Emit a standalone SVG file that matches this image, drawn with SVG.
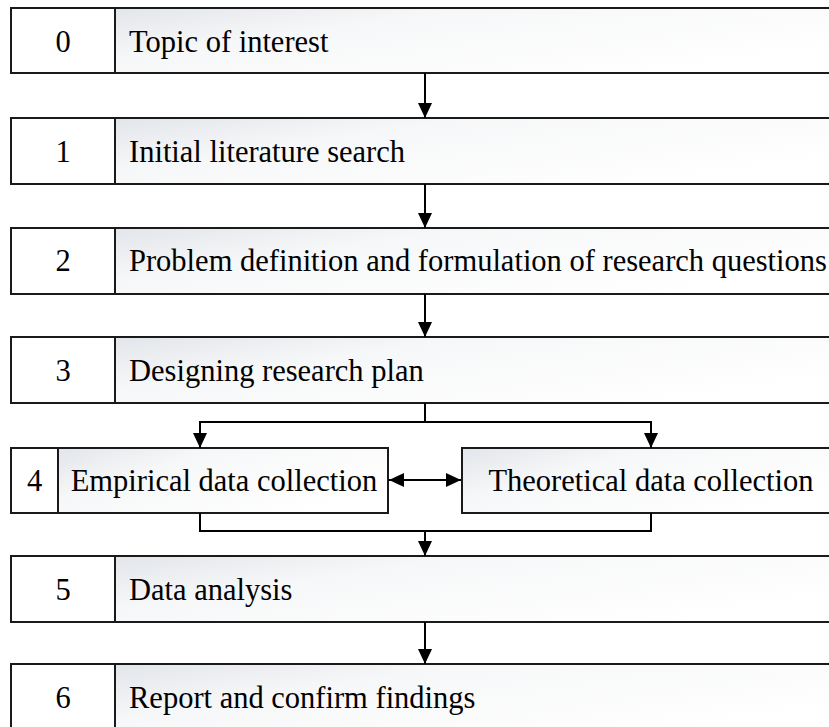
<svg xmlns="http://www.w3.org/2000/svg" width="829" height="727" viewBox="0 0 829 727">
<style>
.num{fill:#ffffff;stroke:#1a1a1a;stroke-width:2}
.cell{fill:url(#g);stroke:#1a1a1a;stroke-width:2}
.t{font-size:30.5px;fill:#000}
.c{text-anchor:middle}
.ln{fill:none;stroke:#000;stroke-width:2}
</style>
<defs>
<linearGradient id="g" x1="0" y1="0" x2="1" y2="0.6">
<stop offset="0" stop-color="#e2e5ea"/>
<stop offset="0.35" stop-color="#f6f7f8"/>
<stop offset="1" stop-color="#ffffff"/>
</linearGradient>
<marker id="ah" viewBox="0 0 15 14" refX="15" refY="7" markerWidth="15" markerHeight="14" markerUnits="userSpaceOnUse" orient="auto-start-reverse">
<path d="M0,0 L15,7 L0,14 Z" fill="#000"/>
</marker>
</defs>
<g font-family="Liberation Serif, DejaVu Serif, serif">
<g id="n0">
<rect class="num" x="11" y="8" width="104" height="65"/>
<rect class="cell" x="115" y="8" width="725" height="65"/>
<text class="t c" x="63" y="51.5">0</text>
<text class="t" x="129" y="51.5">Topic of interest</text>
</g>
<g id="n1">
<rect class="num" x="11" y="118" width="104" height="66"/>
<rect class="cell" x="115" y="118" width="725" height="66"/>
<text class="t c" x="63" y="161.5">1</text>
<text class="t" x="129" y="161.5">Initial literature search</text>
</g>
<g id="n2">
<rect class="num" x="11" y="228" width="104" height="66"/>
<rect class="cell" x="115" y="228" width="725" height="66"/>
<text class="t c" x="63" y="271">2</text>
<text class="t" x="129" y="271">Problem definition and formulation of research questions</text>
</g>
<g id="n3">
<rect class="num" x="11" y="337" width="104" height="66"/>
<rect class="cell" x="115" y="337" width="725" height="66"/>
<text class="t c" x="63" y="380.5">3</text>
<text class="t" x="129" y="380.5">Designing research plan</text>
</g>
<g id="n4">
<rect class="num" x="11" y="448" width="47" height="65"/>
<rect class="cell" x="58" y="448" width="330" height="65"/>
<text class="t c" x="34.5" y="491">4</text>
<text class="t c" x="224" y="491">Empirical data collection</text>
</g>
<g id="n4b">
<rect class="cell" x="462" y="448" width="378" height="65"/>
<text class="t c" x="651" y="491">Theoretical data collection</text>
</g>
<g id="n5">
<rect class="num" x="11" y="556" width="104" height="66"/>
<rect class="cell" x="115" y="556" width="725" height="66"/>
<text class="t c" x="63" y="599.5">5</text>
<text class="t" x="129" y="599.5">Data analysis</text>
</g>
<g id="n6">
<rect class="num" x="11" y="664" width="104" height="70"/>
<rect class="cell" x="115" y="664" width="725" height="70"/>
<text class="t c" x="63" y="707.5">6</text>
<text class="t" x="129" y="707.5">Report and confirm findings</text>
</g>
</g>
<g id="connectors">
<path class="ln" d="M425,73 V118" marker-end="url(#ah)"/>
<path class="ln" d="M425,184 V228" marker-end="url(#ah)"/>
<path class="ln" d="M425,294 V337" marker-end="url(#ah)"/>
<path class="ln" d="M425,403 V422"/>
<path class="ln" d="M425,422 H200 V448" marker-end="url(#ah)"/>
<path class="ln" d="M425,422 H651 V448" marker-end="url(#ah)"/>
<path class="ln" d="M389,480 H461" marker-start="url(#ah)" marker-end="url(#ah)"/>
<path class="ln" d="M200,513 V531 H651 V513"/>
<path class="ln" d="M425,531 V556" marker-end="url(#ah)"/>
<path class="ln" d="M425,622 V664" marker-end="url(#ah)"/>
</g>
</svg>
